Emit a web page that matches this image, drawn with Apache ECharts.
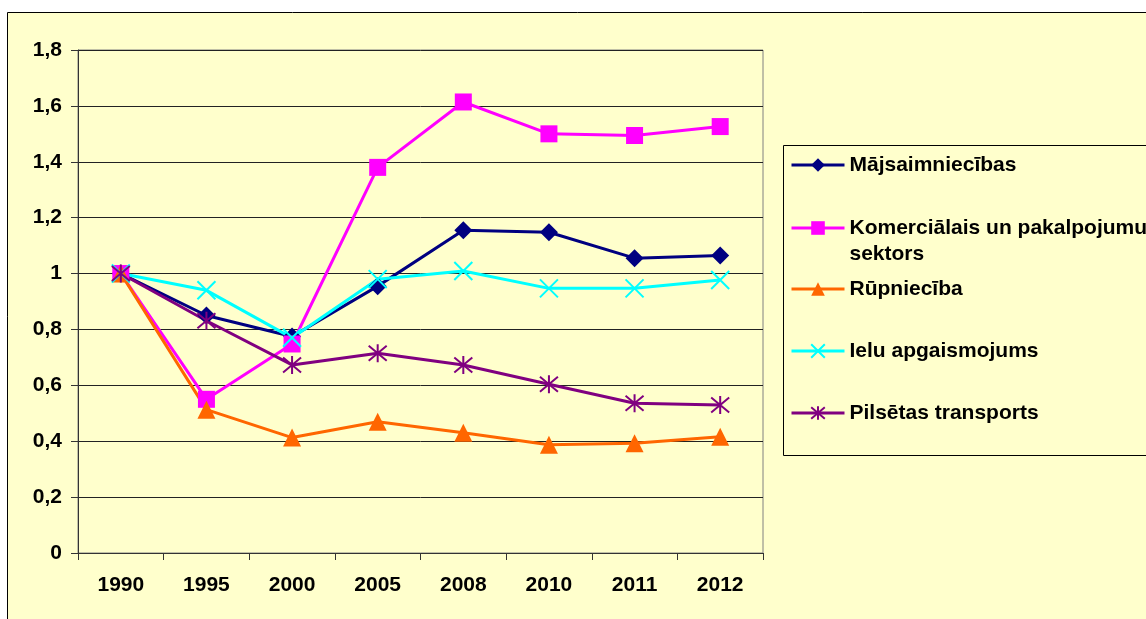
<!DOCTYPE html>
<html>
<head>
<meta charset="utf-8">
<script src="https://cdn.jsdelivr.net/npm/echarts@6/dist/echarts.min.js"></script>
<style>
  html, body { margin: 0; padding: 0; background: #fff; }
  #chart { width: 1146px; height: 619px; }
</style>
</head>
<body>
<div id="chart"></div>
<script>
var years = ['1990', '1995', '2000', '2005', '2008', '2010', '2011', '2012'];
var majsaimniecibas = [1, 0.85, 0.775, 0.955, 1.155, 1.148, 1.055, 1.065];
var komercialais = [1, 0.55, 0.748, 1.38, 1.614, 1.5, 1.494, 1.526];
var rupnieciba = [1, 0.513, 0.413, 0.47, 0.43, 0.387, 0.393, 0.416];
var ieluApgaismojums = [1, 0.94, 0.77, 0.98, 1.009, 0.947, 0.947, 0.977];
var pilsetasTransports = [1, 0.831, 0.673, 0.715, 0.673, 0.604, 0.536, 0.53];
var seriesNames = ['Mājsaimniecības', 'Komerciālais un pakalpojumu sektors', 'Rūpniecība', 'Ielu apgaismojums', 'Pilsētas transports'];

var font = 'Liberation Sans, Arial, sans-serif';
var crossPath = 'path://M0,0L10,10M10,0L0,10';
var starPath = 'path://M0,0L10,10M10,0L0,10M5,-1L5,11';

var chart = echarts.init(document.getElementById('chart'));

// legend item centres (y) – one legend per item so the wrapped one lines up
var legendCenters = [165, 228, 289, 351, 413];
var legends = seriesNames.map(function (name, i) {
  return {
    orient: 'vertical',
    left: 790,
    top: i === 1 ? legendCenters[i] - 39 : legendCenters[i] - 13,
    padding: 0,
    itemWidth: 53,
    itemHeight: 17,
    selectedMode: false,
    data: [name],
    lineStyle: { width: 3 },
    textStyle: { fontSize: 21, fontWeight: 'bold', fontFamily: font, color: '#000', lineHeight: 26 },
    formatter: function (n) {
      if (i === 1) return ' \nKomerciālais un pakalpojumu\nsektors';
      return n;
    }
  };
});

function lineSeries(name, data, color, symbol, size, extra) {
  var s = {
    name: name,
    type: 'line',
    data: data,
    symbol: symbol,
    symbolSize: size,
    lineStyle: { color: color, width: 3 },
    itemStyle: { color: color },
    emphasis: { disabled: true }
  };
  if (extra) s.itemStyle = extra;
  return s;
}

chart.setOption({
  animation: false,
  graphic: [
    {
      type: 'rect', z: -10, silent: true,
      shape: { x: 7.5, y: 12.5, width: 1200, height: 700 },
      style: { fill: '#FFFFCC', stroke: '#000', lineWidth: 1 }
    },
    {
      type: 'rect', z: -5, silent: true,
      shape: { x: 783.5, y: 145.5, width: 400, height: 310 },
      style: { fill: '#FFFFCC', stroke: '#000', lineWidth: 1 }
    }
  ],
  legend: legends,
  grid: {
    left: 78, top: 50, width: 685, height: 503,
    show: true, borderColor: '#808080', borderWidth: 1, backgroundColor: 'transparent'
  },
  xAxis: {
    type: 'category',
    data: years,
    boundaryGap: true,
    axisLine: { lineStyle: { color: '#333', width: 1 } },
    axisTick: { show: true, length: 7, lineStyle: { color: '#333' } },
    axisLabel: { interval: 0, margin: 22, fontSize: 21, fontWeight: 'bold', fontFamily: font, color: '#000' }
  },
  yAxis: {
    type: 'value',
    min: 0, max: 1.8, interval: 0.2,
    axisLine: { show: true, lineStyle: { color: '#333', width: 1 } },
    axisTick: { show: true, length: 7, lineStyle: { color: '#333' } },
    axisLabel: {
      margin: 16, fontSize: 21, fontWeight: 'bold', fontFamily: font, color: '#000',
      formatter: function (v) { return String(Math.round(v * 10) / 10).replace('.', ','); }
    },
    splitLine: { lineStyle: { color: '#222', width: 1 } }
  },
  series: [
    lineSeries(seriesNames[0], majsaimniecibas, '#000080', 'diamond', 18),
    lineSeries(seriesNames[1], komercialais, '#FF00FF', 'rect', 17),
    lineSeries(seriesNames[2], rupnieciba, '#FF6600', 'triangle', 18),
    lineSeries(seriesNames[3], ieluApgaismojums, '#00FFFF', crossPath, 18,
      { color: '#00FFFF', borderColor: '#00FFFF', borderWidth: 2 }),
    lineSeries(seriesNames[4], pilsetasTransports, '#800080', starPath, 18,
      { color: '#800080', borderColor: '#800080', borderWidth: 2 })
  ]
});
</script>
</body>
</html>
